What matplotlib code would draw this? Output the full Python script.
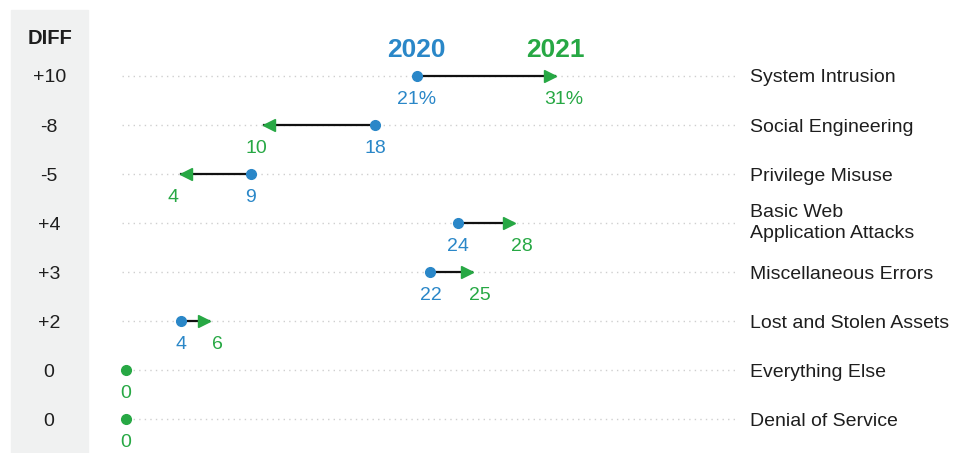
import matplotlib.pyplot as plt
from matplotlib.patches import Rectangle

plt.rcParams['font.family'] = ['Liberation Sans', 'DejaVu Sans']

categories = ['System Intrusion', 'Social Engineering', 'Privilege Misuse',
              'Basic Web\nApplication Attacks', 'Miscellaneous Errors',
              'Lost and Stolen Assets', 'Everything Else', 'Denial of Service']
y2020 = [21, 18, 9, 24, 22, 4, 0, 0]
y2021 = [31, 10, 4, 28, 25, 6, 0, 0]
diff_labels = ['+10', '-8', '-5', '+4', '+3', '+2', '0', '0']

BLUE = '#2a87c8'
GREEN = '#27a844'
GRAY = '#f0f1f1'
INK = '#1e1e1e'

fig = plt.figure(figsize=(9.73, 4.53), dpi=100)
ax = fig.add_axes([0, 0, 1, 1])
ax.set_xlim(-9.1, 61.2)
ax.set_ylim(7.69, -1.55)
ax.axis('off')

# grey DIFF column
ax.add_patch(Rectangle((11 / 973, 0), 77 / 973, 443 / 453,
                       transform=ax.transAxes, color=GRAY, zorder=0))
ax.text(50 / 973, 1 - 37 / 453, 'DIFF', ha='center', va='center_baseline',
        fontsize=14.5, fontweight='bold', color=INK, transform=ax.transAxes)

ax.text(21, -0.59, '2020', color=BLUE, fontsize=19, fontweight='bold',
        ha='center', va='center_baseline')
ax.text(31, -0.59, '2021', color=GREEN, fontsize=19, fontweight='bold',
        ha='center', va='center_baseline')

for i, (cat, a, b, d) in enumerate(zip(categories, y2020, y2021, diff_labels)):
    # dotted guide
    ax.plot([-0.3, 44.0], [i, i], color='#cfcfcf', lw=1, ls=(0, (1, 3)), zorder=1)
    ax.text(-5.55, i, d, fontsize=14, ha='center', va='center_baseline', color=INK)
    ax.text(45.1, i, cat, fontsize=14, ha='left', color=INK, linespacing=1.3,
            va='center' if '\n' in cat else 'center_baseline')
    suffix = '%' if i == 0 else ''
    if a == b:
        ax.plot(b, i, 'o', color=GREEN, ms=7, zorder=4)
        ax.text(b, i + 0.43, f'{b}{suffix}', color=GREEN, fontsize=14,
                ha='center', va='center_baseline')
        continue
    sign = 1 if b > a else -1
    ax.plot([a, b], [i, i], color='#111111', lw=1.6, zorder=2)
    ax.plot(b - sign * 0.35, i, '>' if sign > 0 else '<', color=GREEN, ms=9,
            zorder=3)
    ax.plot(a, i, 'o', color=BLUE, ms=7, zorder=4)
    ax.text(a, i + 0.43, f'{a}{suffix}', color=BLUE, fontsize=14,
            ha='center', va='center_baseline')
    ax.text(b + sign * 0.6, i + 0.43, f'{b}{suffix}', color=GREEN, fontsize=14,
            ha='center', va='center_baseline')

fig.savefig('out.png', dpi=100, facecolor='white')
